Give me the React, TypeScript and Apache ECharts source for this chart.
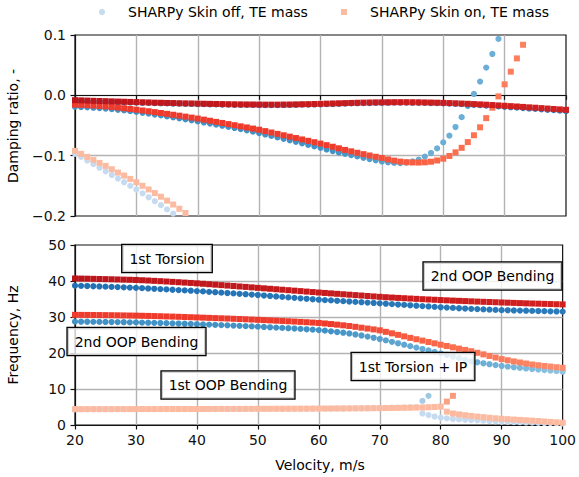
import React, { useEffect, useRef } from "react";
import * as echarts from "echarts";

// ---------- data ----------
const velocity = [
  20, 21, 22, 23, 24, 25, 26, 27, 28, 29, 30, 31, 32, 33, 34, 35, 36, 37, 38, 39,
  40, 41, 42, 43, 44, 45, 46, 47, 48, 49, 50, 51, 52, 53, 54, 55, 56, 57, 58, 59,
  60, 61, 62, 63, 64, 65, 66, 67, 68, 69, 70, 71, 72, 73, 74, 75, 76, 77, 78, 79,
  80, 81, 82, 83, 84, 85, 86, 87, 88, 89, 90, 91, 92, 93, 94, 95, 96, 97, 98, 99, 100,
];

const xTicks = [20, 30, 40, 50, 60, 70, 80, 90, 100];
const dampTicks = [-0.2, -0.1, 0.0, 0.1];
const freqTicks = [0, 10, 20, 30, 40, 50];

const legendNames = ["SHARPy Skin off, TE mass", "SHARPy Skin on, TE mass"];
const annotations = ["1st Torsion", "2nd OOP Bending", "2nd OOP Bending", "1st OOP Bending", "1st Torsion + IP"];

// Damping ratio — skin off (circles)
const offDampMode1Start = 20;
const offDampMode1 = [-0.097, -0.102, -0.108, -0.114, -0.12, -0.126, -0.132, -0.138, -0.144, -0.15, -0.156, -0.1625, -0.169, -0.1755, -0.182, -0.189, -0.196];
const offDampMode2Start = 20;
const offDampMode2 = [
  -0.019, -0.0194, -0.0199, -0.0205, -0.0212, -0.022, -0.0229, -0.0239, -0.025, -0.0262,
  -0.0275, -0.0289, -0.0303, -0.0318, -0.0333, -0.0349, -0.0365, -0.0381, -0.0398, -0.0415,
  -0.0432, -0.045, -0.0468, -0.0486, -0.0504, -0.0522, -0.0541, -0.056, -0.058, -0.0602,
  -0.0625, -0.0649, -0.0673, -0.0697, -0.0721, -0.0745, -0.077, -0.0795, -0.082, -0.0845,
  -0.087, -0.0897, -0.0923, -0.0947, -0.097, -0.099, -0.1012, -0.1035, -0.1057, -0.1078,
  -0.1096, -0.111, -0.112, -0.1123, -0.1115, -0.1095, -0.1066, -0.1015, -0.0956, -0.088,
  -0.078, -0.0668, -0.0525, -0.0362, -0.0178, 0.0023, 0.0228, 0.046, 0.0686, 0.0935,
];
const offDampMode3Start = 20;
const offDampMode3 = [
  -0.009, -0.0094, -0.0097, -0.01, -0.0104, -0.0107, -0.011, -0.0113, -0.0115, -0.0118,
  -0.0121, -0.0124, -0.0126, -0.0129, -0.0131, -0.0134, -0.0136, -0.0138, -0.014, -0.0142,
  -0.0144, -0.0146, -0.0148, -0.015, -0.0152, -0.0154, -0.0156, -0.0157, -0.0158, -0.0159,
  -0.016, -0.0161, -0.0161, -0.0161, -0.016, -0.0159, -0.0157, -0.0155, -0.0153, -0.0151,
  -0.0149, -0.0146, -0.0143, -0.014, -0.0137, -0.0134, -0.0131, -0.0129, -0.0127, -0.0125,
  -0.0123, -0.0122, -0.0121, -0.0121, -0.0121, -0.0122, -0.0123, -0.0125, -0.0127, -0.013,
  -0.0133, -0.0137, -0.0141, -0.0146, -0.0151, -0.0157, -0.0163, -0.0169, -0.0176, -0.0183,
  -0.019, -0.0197, -0.0204, -0.0211, -0.0218, -0.0225, -0.0232, -0.0239, -0.0246, -0.0254, -0.0262,
];

// Damping ratio — skin on (squares)
const onDampMode1Start = 20;
const onDampMode1 = [-0.092, -0.097, -0.102, -0.107, -0.112, -0.117, -0.1225, -0.128, -0.133, -0.1385, -0.144, -0.15, -0.156, -0.162, -0.168, -0.1745, -0.181, -0.188, -0.195];
const onDampMode2Start = 20;
const onDampMode2 = [
  -0.0154, -0.0158, -0.0163, -0.0169, -0.0176, -0.0184, -0.0193, -0.0203, -0.0214, -0.0226,
  -0.0238, -0.0251, -0.0264, -0.0278, -0.0292, -0.0307, -0.0322, -0.0337, -0.0353, -0.0369,
  -0.0385, -0.0403, -0.0421, -0.044, -0.0458, -0.0477, -0.0495, -0.0514, -0.0532, -0.0551,
  -0.057, -0.0593, -0.0616, -0.0639, -0.0662, -0.0685, -0.0708, -0.0731, -0.0754, -0.0777,
  -0.08, -0.0826, -0.0852, -0.0878, -0.0904, -0.0928, -0.0952, -0.0975, -0.0997, -0.1018,
  -0.1038, -0.1062, -0.1082, -0.1098, -0.1108, -0.1113, -0.1114, -0.111, -0.11, -0.108,
  -0.105, -0.1005, -0.0945, -0.087, -0.0775, -0.0662, -0.053, -0.0378, -0.0205, -0.0018,
  0.0182, 0.0392, 0.0612, 0.0838,
];
const onDampMode3Start = 20;
const onDampMode3 = [
  -0.008, -0.0084, -0.0087, -0.0091, -0.0094, -0.0097, -0.01, -0.0103, -0.0106, -0.0109,
  -0.0112, -0.0115, -0.0118, -0.0121, -0.0123, -0.0126, -0.0128, -0.0131, -0.0133, -0.0135,
  -0.0137, -0.0139, -0.0141, -0.0143, -0.0145, -0.0147, -0.0149, -0.015, -0.0151, -0.0152,
  -0.0153, -0.0154, -0.0154, -0.0154, -0.0153, -0.0152, -0.015, -0.0148, -0.0146, -0.0144,
  -0.0141, -0.0138, -0.0135, -0.0132, -0.0129, -0.0126, -0.0123, -0.0121, -0.0119, -0.0117,
  -0.0116, -0.0115, -0.0114, -0.0114, -0.0114, -0.0115, -0.0116, -0.0118, -0.012, -0.0122,
  -0.0125, -0.0128, -0.0132, -0.0136, -0.014, -0.0145, -0.015, -0.0155, -0.0161, -0.0167,
  -0.0173, -0.0179, -0.0185, -0.0192, -0.0199, -0.0205, -0.0212, -0.0219, -0.0226, -0.0233, -0.024,
];

// Frequency — skin off (circles)
const offFreqMode1aStart = 20;
const offFreqMode1a = [
  4.38, 4.38, 4.38, 4.39, 4.39, 4.39, 4.39, 4.4, 4.4, 4.4,
  4.4, 4.41, 4.41, 4.41, 4.41, 4.42, 4.42, 4.42, 4.43, 4.43,
  4.43, 4.44, 4.44, 4.44, 4.45, 4.45, 4.45, 4.46, 4.46, 4.47,
  4.47, 4.48, 4.48, 4.49, 4.49, 4.5, 4.51, 4.51, 4.52, 4.53,
  4.54, 4.55, 4.56, 4.57, 4.58, 4.6, 4.62, 4.64, 4.66, 4.69,
  4.72, 4.76, 4.8, 4.84, 4.88, 4.92, 4.95, 6.7, 8.1,
];
const offFreqMode1bStart = 77;
const offFreqMode1b = [3.2, 2.75, 2.35, 2.05, 1.85, 1.68, 1.56, 1.46, 1.38, 1.29, 1.2, 1.11, 1.03, 0.95, 0.89, 0.83, 0.77, 0.71, 0.65, 0.61, 0.57, 0.53, 0.49, 0.45];
const offFreqMode2Start = 20;
const offFreqMode2 = [
  28.7, 28.69, 28.68, 28.66, 28.64, 28.62, 28.6, 28.58, 28.55, 28.52,
  28.49, 28.45, 28.41, 28.37, 28.33, 28.29, 28.24, 28.19, 28.14, 28.08,
  28.02, 27.96, 27.9, 27.83, 27.76, 27.69, 27.62, 27.55, 27.47, 27.39,
  27.31, 27.23, 27.15, 27.06, 26.97, 26.88, 26.79, 26.69, 26.59, 26.48,
  26.37, 26.2, 26.02, 25.83, 25.63, 25.42, 25.15, 24.86, 24.55, 24.22,
  23.88, 23.5, 23.1, 22.7, 22.3, 21.9, 21.5, 21.1, 20.7, 20.3,
  19.9, 19.45, 19.0, 18.56, 18.12, 17.7, 17.42, 17.15, 16.89, 16.64,
  16.4, 16.21, 16.03, 15.86, 15.7, 15.55, 15.4, 15.25, 15.1, 14.95, 14.8,
];
const offFreqMode3Start = 20;
const offFreqMode3 = [
  38.7, 38.65, 38.6, 38.54, 38.48, 38.42, 38.36, 38.3, 38.23, 38.17,
  38.1, 38.02, 37.93, 37.84, 37.75, 37.66, 37.57, 37.48, 37.39, 37.3,
  37.2, 37.1, 36.99, 36.88, 36.77, 36.66, 36.55, 36.44, 36.33, 36.22,
  36.1, 35.97, 35.84, 35.71, 35.58, 35.45, 35.32, 35.19, 35.06, 34.93,
  34.8, 34.7, 34.6, 34.5, 34.4, 34.3, 34.2, 34.1, 34.0, 33.9,
  33.8, 33.69, 33.58, 33.47, 33.36, 33.25, 33.14, 33.03, 32.92, 32.81,
  32.7, 32.61, 32.52, 32.43, 32.35, 32.27, 32.19, 32.11, 32.04, 31.97,
  31.9, 31.86, 31.82, 31.78, 31.74, 31.7, 31.66, 31.62, 31.58, 31.54, 31.5,
];

// Frequency — skin on (squares)
const onFreqMode1aStart = 20;
const onFreqMode1a = [
  4.4, 4.4, 4.4, 4.41, 4.41, 4.41, 4.41, 4.42, 4.42, 4.42,
  4.42, 4.43, 4.43, 4.43, 4.43, 4.44, 4.44, 4.44, 4.45, 4.45,
  4.45, 4.46, 4.46, 4.46, 4.47, 4.47, 4.47, 4.48, 4.48, 4.49,
  4.49, 4.5, 4.5, 4.51, 4.51, 4.52, 4.53, 4.53, 4.54, 4.55,
  4.56, 4.57, 4.58, 4.59, 4.6, 4.61, 4.62, 4.64, 4.65, 4.67,
  4.69, 4.71, 4.73, 4.75, 4.78, 4.81, 4.84, 4.88, 4.93, 5.0,
  5.1, 6.5, 8.1,
];
const onFreqMode1bStart = 81;
const onFreqMode1b = [3.7, 3.2, 2.95, 2.72, 2.52, 2.34, 2.18, 2.02, 1.86, 1.72, 1.62, 1.52, 1.42, 1.32, 1.22, 1.1, 0.98, 0.86, 0.75, 0.65];
const onFreqMode2Start = 20;
const onFreqMode2 = [
  30.6, 30.59, 30.58, 30.56, 30.54, 30.52, 30.5, 30.47, 30.44, 30.41,
  30.38, 30.34, 30.3, 30.26, 30.21, 30.16, 30.11, 30.06, 30.0, 29.94,
  29.88, 29.82, 29.76, 29.7, 29.64, 29.58, 29.51, 29.44, 29.37, 29.3,
  29.22, 29.14, 29.06, 28.98, 28.9, 28.82, 28.73, 28.64, 28.55, 28.45,
  28.35, 28.2, 28.04, 27.87, 27.69, 27.5, 27.27, 27.03, 26.79, 26.55,
  26.3, 25.88, 25.46, 25.04, 24.62, 24.2, 23.82, 23.44, 23.06, 22.68,
  22.3, 21.94, 21.58, 21.22, 20.86, 20.5, 20.06, 19.62, 19.18, 18.74,
  18.3, 17.98, 17.66, 17.36, 17.07, 16.8, 16.6, 16.4, 16.22, 16.05, 15.9,
];
const onFreqMode3Start = 20;
const onFreqMode3 = [
  40.7, 40.67, 40.64, 40.6, 40.56, 40.52, 40.48, 40.43, 40.38, 40.34,
  40.29, 40.21, 40.13, 40.04, 39.95, 39.86, 39.76, 39.66, 39.56, 39.46,
  39.35, 39.23, 39.11, 38.98, 38.85, 38.73, 38.61, 38.48, 38.36, 38.23,
  38.1, 37.97, 37.84, 37.71, 37.58, 37.45, 37.32, 37.19, 37.06, 36.93,
  36.8, 36.68, 36.56, 36.44, 36.32, 36.2, 36.08, 35.96, 35.84, 35.72,
  35.6, 35.5, 35.4, 35.31, 35.22, 35.13, 35.04, 34.95, 34.87, 34.79,
  34.71, 34.63, 34.56, 34.49, 34.42, 34.35, 34.28, 34.22, 34.16, 34.1,
  34.04, 33.98, 33.92, 33.86, 33.8, 33.75, 33.7, 33.65, 33.6, 33.55, 33.5,
];

// ---------- helpers ----------
const FONT = '14px "DejaVu Sans", sans-serif';
const FAMILY = '"DejaVu Sans", sans-serif';
const INK = "#111";

function pairs(start: number, vals: number[]) {
  const i0 = velocity.indexOf(start);
  return vals.map((v, i) => [velocity[i0 + i], v]);
}

function hex(h: string) {
  const n = parseInt(h.slice(1), 16);
  return [(n >> 16) & 255, (n >> 8) & 255, n & 255];
}

function ramp(stops: [number, string][]) {
  return (p: any) => {
    const v = p.value[0];
    if (v <= stops[0][0]) return stops[0][1];
    for (let i = 1; i < stops.length; i++) {
      if (v <= stops[i][0]) {
        const [a, ca] = stops[i - 1];
        const [b, cb] = stops[i];
        const t = (v - a) / (b - a);
        const A = hex(ca), B = hex(cb);
        const c = A.map((x, k) => Math.round(x + (B[k] - x) * t));
        return `rgb(${c[0]},${c[1]},${c[2]})`;
      }
    }
    return stops[stops.length - 1][1];
  };
}

const colOff1 = ramp([[20, "#c6dbef"], [76, "#c6dbef"], [77, "#a9cce6"], [78, "#9ecae1"]]);
const colOff1b = ramp([[20, "#c6dbef"], [100, "#c6dbef"]]);
const colOff2 = ramp([[20, "#4292c6"], [62, "#4292c6"], [78, "#6baed6"], [88, "#6baed6"], [100, "#92c4e0"]]);
const colOff3 = ramp([[20, "#2171b5"], [100, "#2b7bba"]]);
const colOn1 = ramp([[20, "#fcbba1"], [80, "#fcbba1"], [81, "#fca284"], [82, "#fc9a7b"]]);
const colOn1b = ramp([[20, "#fcbba1"], [100, "#fcbba1"]]);
const colOn2 = ramp([[20, "#ef3b2c"], [62, "#ef3b2c"], [80, "#fb6a4a"], [100, "#fc8d6e"]]);
const colOn3 = ramp([[20, "#bb151c"], [100, "#d2201f"]]);

function sc(name: string, gi: number, data: number[][], symbol: string, color: any) {
  return {
    type: "scatter",
    name,
    xAxisIndex: gi,
    yAxisIndex: gi,
    data,
    symbol,
    symbolSize: symbol === "circle" ? 6.2 : 6,
    itemStyle: { color, opacity: 1 },
    clip: true,
    silent: true,
    z: 2,
  };
}

function makeX(gi: number) {
  return {
    type: "value",
    gridIndex: gi,
    min: 20,
    max: 100,
    interval: 10,
    axisLine: { show: true, lineStyle: { color: INK, width: 1.2 } },
    axisTick: { show: true, length: 4.5, lineStyle: { color: INK, width: 1.2 } },
    axisLabel: {
      show: gi === 1,
      fontSize: 14,
      fontFamily: FAMILY,
      color: INK,
      margin: 8,
      customValues: xTicks,
    },
    splitLine: { show: true, showMinLine: false, showMaxLine: false, lineStyle: { color: "#b3b3b3", width: 1.4 } },
  };
}

function makeY(gi: number, min: number, max: number, interval: number, fmt: (v: number) => string) {
  return {
    type: "value",
    gridIndex: gi,
    min,
    max,
    interval,
    axisLine: { show: true, lineStyle: { color: INK, width: 1.2 } },
    axisTick: { show: true, length: 4.5, lineStyle: { color: INK, width: 1.2 } },
    axisLabel: { fontSize: 14, fontFamily: FAMILY, color: INK, margin: 9, formatter: fmt },
    splitLine: { show: true, showMinLine: false, showMaxLine: false, lineStyle: { color: "#b3b3b3", width: 1.4 } },
  };
}

const dampFmt = (v: number) => {
  const s = Math.abs(v) < 1e-9 ? "0.0" : v.toFixed(1);
  return s.replace("-", "\u2212");
};
const freqFmt = (v: number) => String(Math.round(v));

function boxText(text: string, x: number, y: number) {
  return {
    type: "text",
    x,
    y,
    z: 100,
    style: {
      text,
      font: FONT,
      fill: "#000",
      align: "center",
      verticalAlign: "middle",
      backgroundColor: "rgba(255,255,255,0.8)",
      borderColor: "#000",
      borderWidth: 1.3,
      padding: [7, 7, 6, 7],
    },
  };
}

export default function App() {
  const ref = useRef<HTMLDivElement>(null);
  useEffect(() => {
    if (!ref.current) return;
    const chart = echarts.init(ref.current, null, { renderer: "svg" });
    const option: any = {
      animation: false,
      backgroundColor: "#fff",
      grid: [
        { left: 75, right: 13, top: 35, height: 181, show: true, borderColor: INK, borderWidth: 1.2, backgroundColor: "transparent" },
        { left: 75, right: 13, top: 245, height: 180, show: true, borderColor: INK, borderWidth: 1.2, backgroundColor: "transparent" },
      ],
      xAxis: [makeX(0), makeX(1)],
      yAxis: [
        makeY(0, dampTicks[0], dampTicks[dampTicks.length - 1], 0.1, dampFmt),
        makeY(1, freqTicks[0], freqTicks[freqTicks.length - 1], 10, freqFmt),
      ],
      series: [
        // skin off (circles)
        sc(legendNames[0], 0, pairs(offDampMode1Start, offDampMode1), "circle", colOff1),
        sc(legendNames[0], 0, pairs(offDampMode2Start, offDampMode2), "circle", colOff2),
        sc(legendNames[0], 0, pairs(offDampMode3Start, offDampMode3), "circle", colOff3),
        sc(legendNames[0], 1, pairs(offFreqMode1aStart, offFreqMode1a), "circle", colOff1),
        sc(legendNames[0], 1, pairs(offFreqMode1bStart, offFreqMode1b), "circle", colOff1b),
        sc(legendNames[0], 1, pairs(offFreqMode2Start, offFreqMode2), "circle", colOff2),
        sc(legendNames[0], 1, pairs(offFreqMode3Start, offFreqMode3), "circle", colOff3),
        // skin on (squares)
        sc(legendNames[1], 0, pairs(onDampMode1Start, onDampMode1), "rect", colOn1),
        sc(legendNames[1], 0, pairs(onDampMode2Start, onDampMode2), "rect", colOn2),
        sc(legendNames[1], 0, pairs(onDampMode3Start, onDampMode3), "rect", colOn3),
        sc(legendNames[1], 1, pairs(onFreqMode1aStart, onFreqMode1a), "rect", colOn1),
        sc(legendNames[1], 1, pairs(onFreqMode1bStart, onFreqMode1b), "rect", colOn1b),
        sc(legendNames[1], 1, pairs(onFreqMode2Start, onFreqMode2), "rect", colOn2),
        sc(legendNames[1], 1, pairs(onFreqMode3Start, onFreqMode3), "rect", colOn3),
      ],
      graphic: [
        // legend
        { type: "circle", shape: { cx: 102, cy: 12, r: 3.1 }, style: { fill: "#c6dbef" }, z: 50 },
        { type: "text", x: 128, y: 12, z: 50, style: { text: legendNames[0], font: FONT, fill: "#000", align: "left", verticalAlign: "middle" } },
        { type: "rect", shape: { x: 341, y: 9, width: 6, height: 6 }, style: { fill: "#fcbba1" }, z: 50 },
        { type: "text", x: 370, y: 12, z: 50, style: { text: legendNames[1], font: FONT, fill: "#000", align: "left", verticalAlign: "middle" } },
        // axis titles
        { type: "text", x: 13, y: 126, rotation: Math.PI / 2, z: 50, style: { text: "Damping ratio, -", font: FONT, fill: "#000", align: "center", verticalAlign: "middle" } },
        { type: "text", x: 13, y: 335, rotation: Math.PI / 2, z: 50, style: { text: "Frequency, Hz", font: FONT, fill: "#000", align: "center", verticalAlign: "middle" } },
        { type: "text", x: 320, y: 465, z: 50, style: { text: "Velocity, m/s", font: FONT, fill: "#000", align: "center", verticalAlign: "middle" } },
        // annotations
        boxText(annotations[0], 167, 258.5),
        boxText(annotations[1], 492.5, 276),
        boxText(annotations[2], 136.5, 341.5),
        boxText(annotations[3], 228, 385),
        boxText(annotations[4], 413, 366.5),
      ],
    };
    chart.setOption(option);
    return () => chart.dispose();
  }, []);
  return <div ref={ref} style={{ position: "fixed", left: 0, top: 0, width: 579, height: 477 }} />;
}
